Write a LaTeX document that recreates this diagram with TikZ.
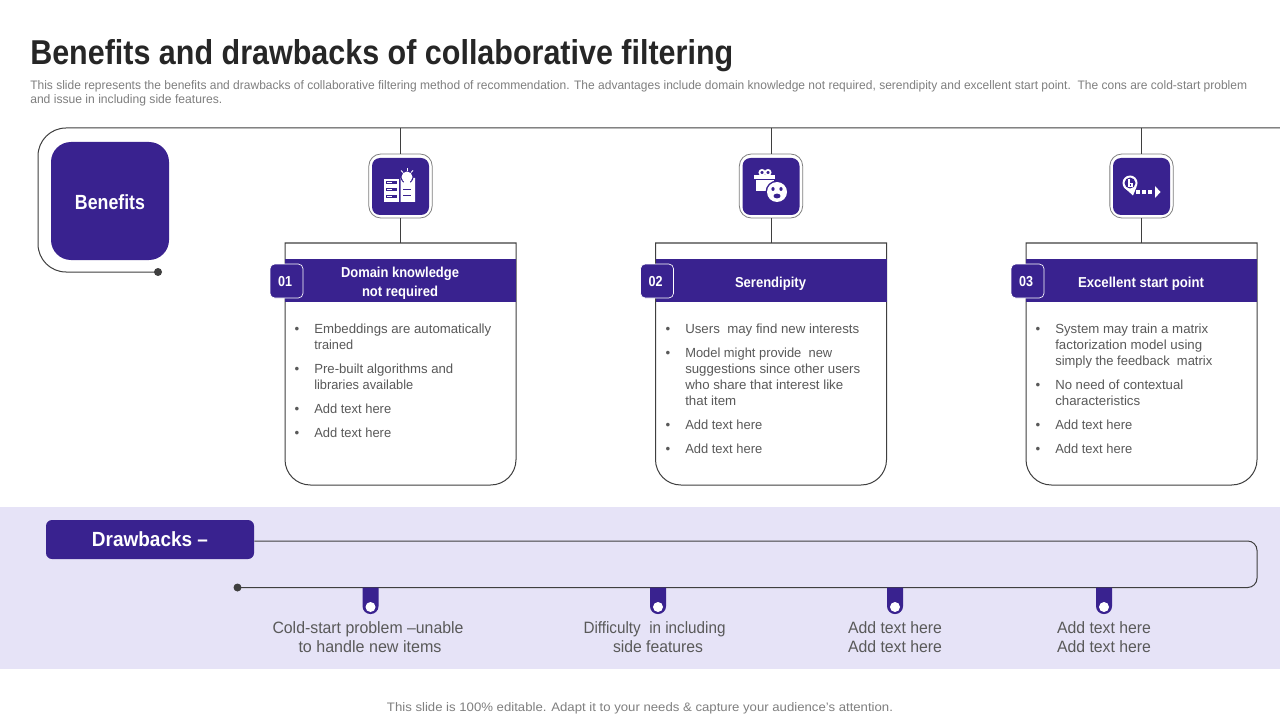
\documentclass[tikz,border=0pt]{standalone}
\usepackage{fontspec}
\usepackage{graphicx}
\setmainfont{Liberation Sans}
\definecolor{pur}{HTML}{39228F}
\definecolor{band}{HTML}{E6E3F7}
\definecolor{ln}{HTML}{3F3F3F}
\definecolor{txt}{HTML}{595959}
\definecolor{ttl}{HTML}{262626}
\definecolor{sub}{HTML}{7F7F7F}
\definecolor{fr}{HTML}{7F7F7F}
\newcommand{\fpx}[2]{\resizebox{#1\dimexpr0.75pt\relax}{\height}{#2}}
\newcounter{tn}
% \tl{x}{baseline y}{anchor}{px size}{px width}{colour}{text}
\newcommand{\tl}[7]{\stepcounter{tn}\node[anchor=#3,text=#6,inner sep=0pt] (t\thetn) at (#1,#2) {\fpx{#5}{\fontsize{\fpeval{#4*0.75}}{\fpeval{#4}}\selectfont #7}};}
\newcommand{\bt}[4]{\stepcounter{tn}\node[anchor=base,text=txt,inner sep=0pt,font=\fontsize{10}{12}\selectfont] (b\thetn) at (#1-17,#2) {•};\tl{#1}{#2}{base west}{13.2}{#3}{txt}{#4}}
\tikzset{
 x=0.75pt,y=-0.75pt,
 lnk/.style={draw=ln,line width=0.75pt},
 tile/.style={fill=pur,draw=none,rounded corners=6pt,minimum width=42.75pt,minimum height=42.75pt,inner sep=0pt},
 framebox/.style={fill=white,draw=fr,line width=0.6pt,rounded corners=9pt,minimum width=47.5pt,minimum height=48pt,inner sep=0pt},
 hdr/.style={fill=pur,draw=none},
 badge/.style={fill=pur,draw=white,line width=0.5pt,rounded corners=3.5pt,minimum width=24.75pt,minimum height=25.5pt,inner sep=0pt},
 dotm/.style={circle,fill=ln,draw=none,minimum size=6pt,inner sep=0pt},
 pinb/.style={fill=pur,draw=none},
 pinh/.style={circle,fill=white,draw=none,minimum size=7.5pt,inner sep=0pt},
 wf/.style={fill=white,draw=none},
 ws/.style={draw=white,line width=0.7pt},
}
\begin{document}
\begin{tikzpicture}
\useasboundingbox (0,0) rectangle (1280,720);
\fill[white] (0,0) rectangle (1280,720);
% title
\tl{30}{65}{base west}{34.5}{703}{ttl}{\bfseries Benefits and drawbacks of collaborative filtering}
\tl{30}{89.5}{base west}{12.3}{1217}{sub}{This slide represents the benefits and drawbacks of collaborative filtering method of recommendation. The advantages include domain knowledge not required, serendipity and excellent start point.~~The cons are cold-start problem}
\tl{30}{104}{base west}{12.3}{192}{sub}{and issue in including side features.}
% benefits
\node[dotm] (bdot) at (158,272) {};
\coordinate (bend) at (1280,128);
\coordinate (bl1) at (38,272);
\coordinate (bl2) at (38,128);
\draw[lnk,rounded corners=21pt] (bdot.center) -- (bl1) -- (bl2) -- (bend);
\node[fill=pur,rounded corners=15pt,minimum width=88.5pt,minimum height=88.5pt,inner sep=0pt] (ben) at (110,201) {};
\tl{110}{209.5}{base}{20.5}{70}{white}{\bfseries Benefits}
% cards
\foreach \n/\cx/\lab in {1/400.5/01,2/771/02,3/1141.5/03}{
 \coordinate (top\n) at (\cx,128);
 \draw[draw=ln,line width=0.75pt,fill=white] (\cx-115.5,243) [rounded corners=19pt] -- (\cx-115.5,485) -- (\cx+115.5,485) [sharp corners] -- (\cx+115.5,243) -- cycle;
 \coordinate (cardtop\n) at (\cx,243);
 \node[hdr,minimum width=173.25pt,minimum height=32.25pt,inner sep=0pt] (h\n) at (\cx,280.5) {};
 \node[badge] (bd\n) at (\cx-114,281) {};
 \tl{\cx-115.5}{286.5}{base}{14.5}{14}{white}{\bfseries \lab}
 \node[framebox] (f\n) at (\cx,186) {};
 \node[tile] (ic\n) at (\cx,186.5) {};
 \draw[lnk] (top\n) -- (f\n.north);
 \draw[lnk] (f\n.south) -- (cardtop\n);
}
\tl{400}{277}{base}{14.4}{118}{white}{\bfseries Domain knowledge}
\tl{400}{296}{base}{14.4}{76}{white}{\bfseries not required}
\tl{770.5}{287}{base}{14.4}{71}{white}{\bfseries Serendipity}
\tl{1141}{287}{base}{14.4}{126}{white}{\bfseries Excellent start~point}
% card 1 text
\bt{314}{333}{177}{Embeddings are automatically}
\tl{314}{349}{base west}{13.2}{39}{txt}{trained}
\bt{314}{373}{139}{Pre-built algorithms and}
\tl{314}{389}{base west}{13.2}{99}{txt}{libraries available}
\bt{314}{413}{77}{Add text here}
\bt{314}{437}{77}{Add text here}
% card 2 text
\bt{685}{333}{174}{Users~ may find new interests}
\bt{685}{357}{147}{Model might provide~ new}
\tl{685}{373}{base west}{13.2}{175}{txt}{suggestions since other users}
\tl{685}{389}{base west}{13.2}{158}{txt}{who share that interest like}
\tl{685}{405}{base west}{13.2}{51}{txt}{that item}
\bt{685}{429}{77}{Add text here}
\bt{685}{453}{77}{Add text here}
% card 3 text
\bt{1055}{333}{153}{System may train a matrix}
\tl{1055}{349}{base west}{13.2}{147}{txt}{factorization model using}
\tl{1055}{365}{base west}{13.2}{157}{txt}{simply the feedback~ matrix}
\bt{1055}{389}{128}{No need of contextual}
\tl{1055}{405}{base west}{13.2}{85}{txt}{characteristics}
\bt{1055}{429}{77}{Add text here}
\bt{1055}{453}{77}{Add text here}
% icon 1
\fill[wf] (384,179) rectangle (399,202);
\fill[wf] (400.5,178) -- (402,178) -- (407,186) -- (412,178) -- (415,178) -- (415,202) -- (400.5,202) -- cycle;
\fill[pur] (386,181.5) rectangle (397,184.5);
\fill[pur] (386,188.5) rectangle (397,191.5);
\fill[pur] (386,195.5) rectangle (397,198.5);
\fill[wf] (387,182.5) rectangle (392,183.5);
\fill[wf] (387,189.5) rectangle (392,190.5);
\fill[wf] (387,196.5) rectangle (392,197.5);
\fill[pur] (402.5,189.5) rectangle (411,190.5);
\fill[pur] (402.5,195) rectangle (411,196);
\fill[pur] (407,177) circle (6.5);
\fill[wf] (407,177) circle (5.5);
\fill[wf] (404,180) rectangle (410,186);
\draw[ws] (401,170.5) -- (403,172.5);
\draw[ws] (407,168.5) -- (407,171);
\draw[ws] (413,170.5) -- (411,172.5);
% icon 2
\draw[white,line width=1.3pt] (762,172.5) circle (2.6);
\draw[white,line width=1.3pt] (768,172.5) circle (2.6);
\fill[wf] (754,175) rectangle (775,179);
\fill[wf] (756,180) rectangle (774,191);
\fill[pur] (777,192) circle (11.5);
\fill[wf] (777,192) circle (10);
\fill[pur] (773,189) ellipse (1.6 and 2);
\fill[pur] (781,189) ellipse (1.6 and 2);
\fill[pur] (777,196) ellipse (3.5 and 2.4);
% icon 3
\fill[wf] (1130,183) circle (7.5);
\fill[wf] (1123.5,187) -- (1136.5,187) -- (1133,195.5) -- cycle;
\fill[pur] (1130,183) circle (5.5);
\draw[white,line width=0.8pt] (1129,179) -- (1129,187) (1129,183.5) -- (1132,183.5) -- (1132,186.5) -- (1129,186.5);
\foreach \q in {1138,1144,1150}{\fill[wf] (\q-2.2,189.8) rectangle (\q+2.2,194.2);}
\fill[wf] (1155,186) -- (1160.5,192) -- (1155,198) -- cycle;
% band
\fill[band] (0,507) rectangle (1280,669);
\node[fill=pur,rounded corners=4.5pt,minimum width=156pt,minimum height=29.25pt,inner sep=0pt] (db) at (150,539.5) {};
\tl{150}{546}{base}{20.5}{116}{white}{\bfseries Drawbacks –}
\node[dotm] (ddot) at (237.5,587.5) {};
\coordinate (dl1) at (1257,541);
\coordinate (dl2) at (1257,587.5);
\draw[lnk,rounded corners=7pt] (db.east |- dl1) -- (dl1) -- (dl2) -- (ddot.center);
\foreach \n/\q in {1/370.5,2/658,3/895,4/1104}{
 \coordinate (pt\n) at (\q,587.5);
 \fill[pinb] (\q-8,587.5) -- (\q+8,587.5) [rounded corners=5.8pt] -- (\q+8,614) -- (\q-8,614) [sharp corners] -- (\q-8,587.5) -- cycle;
 \node[pinh] (ph\n) at (\q,607) {};
}
\tl{368}{633}{base}{16.4}{191}{txt}{Cold-start problem –unable}
\tl{370}{652}{base}{16.4}{143}{txt}{to handle new items}
\tl{654.5}{633}{base}{16.4}{142}{txt}{Difficulty~ in including}
\tl{658}{652}{base}{16.4}{90}{txt}{side features}
\tl{895}{633}{base}{16.4}{94}{txt}{Add text here}
\tl{895}{652}{base}{16.4}{94}{txt}{Add text here}
\tl{1104}{633}{base}{16.4}{94}{txt}{Add text here}
\tl{1104}{652}{base}{16.4}{94}{txt}{Add text here}
\tl{640}{711.5}{base}{12.3}{506}{sub}{This slide is 100\% editable. Adapt it to your needs \& capture your audience’s attention.}
\end{tikzpicture}
\end{document}
